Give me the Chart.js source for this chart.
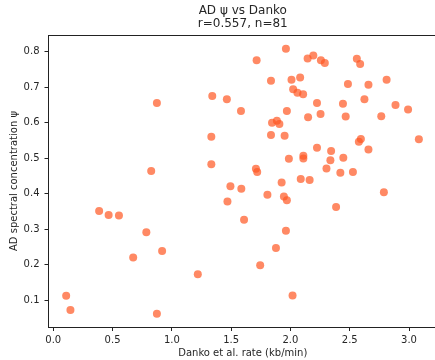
<!DOCTYPE html>
<html>
<head>
<meta charset="utf-8">
<script src="https://cdn.jsdelivr.net/npm/chart.js@4.4.1/dist/chart.umd.min.js"></script>
<style>
  html, body { margin: 0; padding: 0; background: #fff; overflow: hidden; }
  #wrap { width: 441px; height: 360px; }
</style>
</head>
<body>
<div id="wrap"><canvas id="grafico" width="441" height="360"></canvas></div>
<script>
// Danko et al. rate (kb/min) vs AD spectral concentration psi
let danko = [
  0.874, 1.341, 1.464, 1.583, 1.333, 1.333, 0.826, 1.494, 1.962, 1.715,
  2.145, 2.193, 2.257, 2.290, 2.560, 2.588, 1.836, 2.009, 2.082, 2.485,
  2.658, 2.811, 2.023, 2.059, 2.107, 2.624, 2.224, 2.443, 2.886, 2.992,
  1.970, 2.149, 2.254, 2.466, 2.766, 1.845, 1.886, 1.907, 1.836, 1.951,
  3.083, 2.577, 2.594, 2.224, 2.343, 2.658, 1.987, 2.109, 2.109, 2.446,
  2.337, 1.709, 1.720, 2.304, 2.421, 2.527, 1.926, 2.087, 2.162, 1.586,
  2.788, 1.469, 1.806, 1.945, 1.970, 2.385, 1.609, 1.962, 1.878, 1.745,
  2.018, 0.387, 0.467, 0.554, 0.785, 0.918, 0.674, 1.219, 0.109, 0.145,
  0.874
];
let psi = [
  0.655, 0.675, 0.666, 0.633, 0.560, 0.483, 0.464, 0.421, 0.808, 0.776,
  0.781, 0.789, 0.776, 0.768, 0.780, 0.765, 0.718, 0.721, 0.727, 0.709,
  0.707, 0.721, 0.694, 0.684, 0.680, 0.666, 0.655, 0.653, 0.650, 0.637,
  0.633, 0.615, 0.624, 0.617, 0.618, 0.600, 0.605, 0.596, 0.565, 0.563,
  0.553, 0.546, 0.554, 0.529, 0.520, 0.524, 0.498, 0.507, 0.499, 0.501,
  0.494, 0.470, 0.461, 0.471, 0.459, 0.461, 0.431, 0.441, 0.438, 0.414,
  0.404, 0.378, 0.397, 0.392, 0.381, 0.362, 0.326, 0.295, 0.247, 0.198,
  0.113, 0.351, 0.340, 0.338, 0.291, 0.238, 0.220, 0.173, 0.112, 0.072,
  0.061
];
let xTicks = [0.0, 0.5, 1.0, 1.5, 2.0, 2.5, 3.0];
let yTicks = [0.1, 0.2, 0.3, 0.4, 0.5, 0.6, 0.7, 0.8];
let tituloLinhas = ["AD \u03c8 vs Danko", "r=0.557, n=81"];

let pontos = danko.map((x, i) => ({ x: x, y: psi[i] }));

let fonte = "'DejaVu Sans', sans-serif";
let corTexto = "#262626";

// draws the two-line title over the plot area and the top/right frame lines
let molduraPlugin = {
    id: "moldura",
    afterDraw(chart) {
        let ctx = chart.ctx;
        let area = chart.chartArea;
        ctx.save();
        ctx.strokeStyle = "#222";
        ctx.lineWidth = 1;
        ctx.beginPath();
        ctx.moveTo(area.left, Math.round(area.top) + 0.5);
        ctx.lineTo(area.right, Math.round(area.top) + 0.5);
        ctx.moveTo(Math.round(area.right) - 0.5, area.top);
        ctx.lineTo(Math.round(area.right) - 0.5, area.bottom);
        ctx.stroke();

        ctx.fillStyle = corTexto;
        ctx.font = "12px " + fonte;
        ctx.textAlign = "center";
        ctx.textBaseline = "middle";
        let cx = (area.left + area.right) / 2;
        ctx.fillText(tituloLinhas[0], cx, 11);
        ctx.fillText(tituloLinhas[1], cx, 23.5);
        ctx.restore();
    }
};

let ctx = document.getElementById("grafico").getContext("2d");

let grafico = new Chart(ctx, {
    type: "scatter",
    data: {
        datasets: [{
            label: "AD vs Danko",
            data: pontos,
            backgroundColor: "rgba(255, 87, 34, 0.7)",
            borderWidth: 0,
            pointRadius: 4,
            pointHoverRadius: 4
        }]
    },
    options: {
        responsive: false,
        animation: false,
        devicePixelRatio: 1,
        layout: {
            padding: { top: 35, right: 0, bottom: 0, left: 0 }
        },
        plugins: {
            legend: { display: false },
            tooltip: { enabled: false }
        },
        scales: {
            x: {
                type: "linear",
                min: -0.040,
                max: 3.236,
                afterBuildTicks: (scale) => {
                    scale.ticks = xTicks.map(v => ({ value: v }));
                },
                afterFit: (scale) => {
                    scale.height = 33;
                },
                grid: {
                    drawOnChartArea: false,
                    drawTicks: true,
                    tickLength: 4,
                    color: "#222"
                },
                border: { color: "#222", width: 1 },
                ticks: {
                    autoSkip: false,
                    maxRotation: 0,
                    padding: 3,
                    color: corTexto,
                    font: { family: fonte, size: 10 },
                    callback: (v) => Number(v).toFixed(1)
                },
                title: {
                    display: true,
                    text: "Danko et al. rate (kb/min)",
                    color: corTexto,
                    font: { family: fonte, size: 10 },
                    padding: { top: 0, bottom: 1 }
                }
            },
            y: {
                type: "linear",
                min: 0.024,
                max: 0.847,
                afterBuildTicks: (scale) => {
                    scale.ticks = yTicks.map(v => ({ value: v }));
                },
                afterFit: (scale) => {
                    scale.width = 48.5;
                },
                grid: {
                    drawOnChartArea: false,
                    drawTicks: true,
                    tickLength: 4,
                    color: "#222"
                },
                border: { color: "#222", width: 1 },
                ticks: {
                    autoSkip: false,
                    padding: 5,
                    color: corTexto,
                    font: { family: fonte, size: 10 },
                    callback: (v) => Number(v).toFixed(1)
                },
                title: {
                    display: true,
                    text: "AD spectral concentration \u03c8",
                    color: corTexto,
                    font: { family: fonte, size: 10 },
                    padding: { top: 8, bottom: 0 }
                }
            }
        }
    },
    plugins: [molduraPlugin]
});
</script>
</body>
</html>
